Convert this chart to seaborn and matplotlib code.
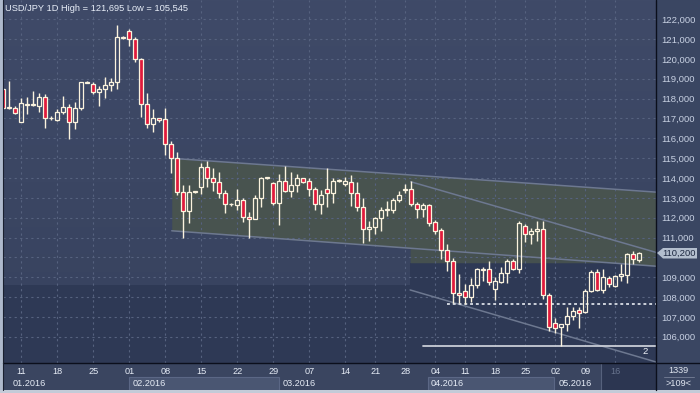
import numpy as np
import pandas as pd
import matplotlib
matplotlib.use("Agg")
import matplotlib.pyplot as plt
import seaborn as sns
from matplotlib.patches import Rectangle, Polygon
from matplotlib.colors import LinearSegmentedColormap

# ---------------- data ----------------
opens = [118.48, 117.55, 117.51, 116.83, 117.70, 117.70, 117.64, 118.08, 117.00, 116.92,
         117.34, 117.56, 116.83, 117.50, 118.80, 118.72, 118.31, 118.48, 118.68, 118.82,
         121.05, 121.40, 121.00, 120.00, 117.71, 116.73, 117.00, 116.97, 115.70, 115.02,
         113.31, 112.35, 113.28, 113.56, 114.57, 113.98, 113.81, 113.23, 112.67, 112.64,
         112.87, 112.05, 111.95, 112.97, 113.98, 113.76, 112.75, 113.86, 113.36, 113.64,
         113.98, 113.86, 113.42, 112.69, 113.42, 113.23, 113.86, 113.72, 113.81, 113.23,
         112.55, 111.45, 111.55, 111.97, 112.40, 112.41, 112.91, 113.40, 113.42, 112.71,
         112.46, 112.63, 111.80, 111.38, 110.37, 109.83, 108.20, 108.29, 107.98, 108.60,
         109.35, 109.44, 108.40, 108.77, 109.22, 109.84, 109.44, 111.57, 111.20, 111.32,
         111.45, 108.12, 106.70, 106.48, 106.62, 107.04, 107.33, 107.25, 108.33, 109.27,
         108.38, 108.98, 108.55, 109.05, 109.13, 110.17, 109.89]
highs = [118.55, 118.88, 117.64, 118.01, 118.08, 118.38, 118.28, 118.24, 117.13, 117.47,
         118.14, 117.71, 117.81, 118.85, 118.90, 118.85, 118.62, 119.09, 119.02, 121.695,
         121.17, 121.50, 121.10, 120.06, 118.28, 117.47, 117.03, 117.50, 115.86, 115.29,
         113.64, 113.64, 113.35, 114.74, 114.87, 114.48, 114.31, 113.39, 112.74, 113.43,
         112.97, 112.29, 113.14, 114.03, 114.05, 113.81, 114.22, 114.60, 114.31, 114.22,
         114.00, 113.98, 113.56, 113.39, 114.48, 113.98, 113.93, 114.03, 114.17, 113.81,
         112.97, 111.85, 112.05, 112.55, 112.86, 112.97, 113.36, 113.69, 113.86, 112.80,
         112.72, 112.71, 111.88, 111.46, 110.67, 109.95, 109.15, 108.68, 108.94, 109.49,
         109.52, 109.81, 109.03, 109.50, 109.94, 109.94, 111.83, 111.69, 111.48, 111.83,
         111.85, 108.20, 106.93, 106.65, 107.49, 107.49, 107.49, 108.43, 109.34, 109.40,
         109.40, 109.07, 109.10, 109.67, 110.22, 110.34, 110.27]
lows = [117.45, 117.47, 117.20, 116.80, 117.24, 117.64, 117.31, 116.53, 116.93, 116.87,
        117.24, 115.96, 116.47, 117.44, 118.78, 118.24, 117.64, 118.01, 118.38, 118.48,
        121.00, 120.66, 119.83, 117.05, 116.53, 116.30, 116.83, 115.16, 114.23, 113.14,
        111.00, 111.72, 113.25, 113.20, 113.56, 113.36, 112.97, 112.24, 112.59, 112.41,
        111.80, 111.00, 111.91, 112.52, 113.95, 112.63, 111.62, 113.30, 113.03, 113.31,
        113.76, 113.08, 112.41, 112.19, 112.52, 112.75, 113.81, 113.60, 112.60, 112.35,
        110.70, 110.84, 111.20, 111.32, 112.07, 112.24, 112.80, 113.25, 112.60, 112.00,
        112.03, 111.58, 111.20, 109.90, 109.33, 107.68, 107.68, 107.65, 107.76, 108.48,
        108.80, 108.60, 107.84, 108.72, 108.72, 109.34, 109.22, 110.78, 110.65, 110.85,
        107.88, 106.30, 106.17, 105.545, 106.30, 106.83, 106.44, 107.20, 108.26, 108.29,
        108.21, 108.52, 108.52, 108.80, 108.72, 109.67, 109.79]
closes = [117.54, 117.60, 117.26, 117.76, 117.75, 117.72, 118.08, 117.00, 117.02, 117.34,
          117.56, 116.83, 117.51, 118.82, 118.85, 118.31, 118.48, 118.68, 118.82, 121.10,
          121.10, 121.00, 119.99, 117.71, 116.73, 117.00, 116.90, 115.70, 115.02, 113.31,
          112.35, 113.31, 113.31, 114.57, 113.98, 113.81, 113.23, 112.69, 112.70, 112.87,
          112.05, 111.95, 112.97, 113.98, 114.03, 112.75, 113.86, 113.36, 113.64, 113.98,
          113.81, 113.42, 112.69, 113.14, 113.23, 113.86, 113.90, 113.86, 113.23, 112.55,
          111.45, 111.55, 111.97, 112.41, 112.44, 112.91, 113.14, 113.45, 112.71, 112.46,
          112.63, 111.71, 111.34, 110.37, 109.83, 108.19, 108.12, 107.98, 108.60, 109.39,
          109.40, 108.78, 108.79, 109.22, 109.84, 109.44, 111.74, 111.20, 111.32, 111.45,
          108.12, 106.50, 106.46, 106.62, 107.04, 107.29, 107.18, 108.33, 109.27, 108.38,
          109.00, 108.65, 109.05, 109.17, 110.17, 109.94, 110.20]

week_pos = [3, 9, 15, 21, 27, 33, 39, 45, 51, 57, 62, 67, 72, 77, 82, 87, 92, 97, 102]
week_labels = ["11", "18", "25", "01", "08", "15", "22", "29", "07", "14",
               "21", "28", "04", "11", "18", "25", "02", "09", "16"]
month_pos = [1.57, 21.57, 46.57, 71.28, 92.5]
month_labels = ["01.2016", "02.2016", "03.2016", "04.2016", "05.2016"]
price_ticks = list(range(106, 123))

# drawn objects (channel / trend lines / levels)
chan_x = [28.07, 108.8]
chan_top = [114.99, 113.287]
chan_bot = [111.34, 109.556]
desc_up_x = [67.9, 108.8]
desc_up_y = [113.81, 110.25]
desc_lo_x = [67.8, 108.8]
desc_lo_y = [108.36, 104.73]
dotted_level = 107.67
dotted_start = 73.9
low_level = 105.55
low_start = 69.95
band_split = 67.8
band_left_bottom = 108.61
band_right_bottom = 109.73
last_price = "110,200"

# ---------------- style ----------------
sns.set_style("dark")
plt.rcParams["font.family"] = ["Liberation Sans", "DejaVu Sans"]

W, H = 700, 393
fig = plt.figure(figsize=(W / 100, H / 100), dpi=100)
fig.patch.set_facecolor("#3a4662")

def fx(x):
    return x / W

def fy(y):
    return 1 - y / H

XMIN, XMAX = -0.05, 108.78
YMIN, YMAX = 104.68, 122.965

ax = fig.add_axes([fx(3), fy(363), fx(653), 363 / H])
ax.set_xlim(XMIN, XMAX)
ax.set_ylim(YMIN, YMAX)
ax.set_facecolor("#2e3955")
for s in ax.spines.values():
    s.set_visible(False)

# lighter upper band with slight gradient
band = Polygon([(XMIN - 1, YMAX + 1), (XMIN - 1, band_left_bottom), (band_split, band_left_bottom),
                (band_split, band_right_bottom), (XMAX + 1, band_right_bottom), (XMAX + 1, YMAX + 1)],
               closed=True, facecolor="none", edgecolor="none", transform=ax.transData)
ax.add_patch(band)
cmap = LinearSegmentedColormap.from_list("bg", ["#37425e", "#3f4a68"])
grad = np.linspace(0, 1, 256).reshape(-1, 1)
im = ax.imshow(grad, extent=[XMIN, XMAX, YMIN, YMAX], origin="lower", aspect="auto",
               cmap=cmap, zorder=0.1)
im.set_clip_path(band)

# greenish channel fill
xx = np.array(chan_x)
ax.fill_between(xx, chan_bot, chan_top, color="#48534f", lw=0, zorder=0.3)
# greenish fill under channel on the right part of the band
xr = np.linspace(band_split, XMAX + 0.5, 50)
bot_line = np.interp(xr, chan_x, chan_bot)
ax.fill_between(xr, band_right_bottom, bot_line, where=bot_line > band_right_bottom,
                color="#45504f", lw=0, zorder=0.3)

# grid
ax.set_axisbelow(True)
ax.set_xticks(week_pos)
ax.set_yticks(price_ticks)
ax.grid(True, color="#56627f", lw=0.8, linestyle=(0, (2, 3)))
ax.tick_params(axis="x", length=0, labelbottom=False)
ax.yaxis.tick_right()
ax.set_yticklabels([("" if v == 110 else f"{v},000") for v in price_ticks])
ax.tick_params(axis="y", length=0, pad=4, labelsize=6.8, labelcolor="#c8d1e3")

# trend lines
line_col = "#6d7890"
sns.lineplot(x=chan_x, y=chan_top, ax=ax, color=line_col, lw=1.1, zorder=2)
sns.lineplot(x=chan_x, y=chan_bot, ax=ax, color=line_col, lw=1.1, zorder=2)
sns.lineplot(x=desc_up_x, y=desc_up_y, ax=ax, color=line_col, lw=1.1, zorder=2)
sns.lineplot(x=desc_lo_x, y=desc_lo_y, ax=ax, color=line_col, lw=1.1, zorder=2)
ax.plot([dotted_start, XMAX], [dotted_level] * 2, color="#d9dde6", lw=1.3,
        linestyle=(0, (1.6, 1.6)), zorder=2.5)
ax.plot([low_start, XMAX], [low_level] * 2, color="#c9cdd6", lw=1.3, zorder=2.5)

# candles
df = pd.DataFrame({"o": opens, "h": highs, "l": lows, "c": closes})
df["i"] = np.arange(len(df))
df["top"] = df[["o", "c"]].max(axis=1)
df["bot"] = df[["o", "c"]].min(axis=1)
df["up"] = df["c"] >= df["o"]
edge = "#fbf3de"
red = "#e01a3c"
ax.vlines(df["i"], df["top"], df["h"], color=edge, lw=1.0, zorder=3)
ax.vlines(df["i"], df["l"], df["bot"], color=edge, lw=1.0, zorder=3)
heights = np.maximum(df["top"] - df["bot"], 0.04)
face = ["none" if u else red for u in df["up"]]
ax.bar(df["i"], heights, bottom=df["bot"], width=0.64, color=face,
       edgecolor=edge, linewidth=0.9, zorder=4)

# "2" label
ax.text(106.9, 105.26, "2", color="#eef2f8", fontsize=6.8, ha="center", va="center", zorder=5)

# title
fig.text(fx(5), fy(8.5), "USD/JPY 1D High = 121,695 Low = 105,545", color="#e8eef8",
         fontsize=6.7, ha="left", va="center")

# ---------------- bottom time strip ----------------
ax2 = fig.add_axes([fx(3), fy(390), fx(653), 27 / H])
ax2.set_xlim(XMIN, XMAX)
ax2.set_ylim(27, 0)
ax2.set_facecolor("#3a4560")
ax2.set_xticks([])
ax2.set_yticks([])
for s in ax2.spines.values():
    s.set_visible(False)
for a, b in [(21.0, 46.0), (70.83, 91.78)]:
    ax2.add_patch(Rectangle((a, 14.3), b - a, 13, facecolor="#4a5672", edgecolor="#5b6785",
                            lw=0.8, zorder=1))
ax2.add_patch(Rectangle((99.6, 0), XMAX - 99.6, 27, facecolor="#2c3651", edgecolor="none", zorder=1))
ax2.axvline(99.6, color="#56617c", lw=0.8, zorder=1.5)
for p, t in zip(week_pos, week_labels):
    col = "#68748e" if p >= 99.6 else "#e6ecf6"
    ax2.text(p, 9, t, color=col, fontsize=6.6, ha="center", va="center", zorder=2)
for p, t in zip(month_pos, month_labels):
    ax2.text(p, 20.5, t, color="#e6ecf6", fontsize=6.6, ha="left", va="center", zorder=2)

# ---------------- frame pieces ----------------
fig.patches.append(Rectangle((0, 0), fx(3), 1, transform=fig.transFigure,
                             facecolor="#aeb9cc", edgecolor="none", zorder=0))
fig.patches.append(Rectangle((0, 0), 1, 3 / H, transform=fig.transFigure,
                             facecolor="#c3cbd8", edgecolor="none", zorder=0))
fig.add_artist(plt.Line2D([fx(3), 1], [fy(363), fy(363)], transform=fig.transFigure,
                          color="#0b0f1c", lw=1.0))
fig.add_artist(plt.Line2D([fx(656), fx(656)], [fy(390), 1], transform=fig.transFigure,
                          color="#0b0f1c", lw=1.0))
fig.add_artist(plt.Line2D([fx(3.2), fx(3.2)], [fy(390), 1], transform=fig.transFigure,
                          color="#1a2030", lw=0.8))

# last-price box
pb = Polygon([(fx(657), fy(253)), (fx(663), fy(248)), (fx(697), fy(248)),
              (fx(697), fy(258.5)), (fx(663), fy(258.5))], closed=True,
             transform=fig.transFigure, facecolor="#b3bece", edgecolor="none", zorder=5)
fig.add_artist(pb)
fig.text(fx(679), fy(253.3), last_price, color="#1c2740", fontsize=6.8,
         ha="center", va="center", zorder=6)

# bottom-right info box
fig.text(fx(678), fy(370.5), "1339", color="#e0e6f0", fontsize=6.6, ha="center", va="center")
fig.add_artist(plt.Line2D([fx(664), fx(694)], [fy(377), fy(377)], transform=fig.transFigure,
                          color="#6e7890", lw=0.7))
fig.text(fx(678), fy(384), ">109<", color="#e0e6f0", fontsize=6.6, ha="center", va="center")

fig.savefig("out.png", dpi=100, facecolor=fig.get_facecolor())
